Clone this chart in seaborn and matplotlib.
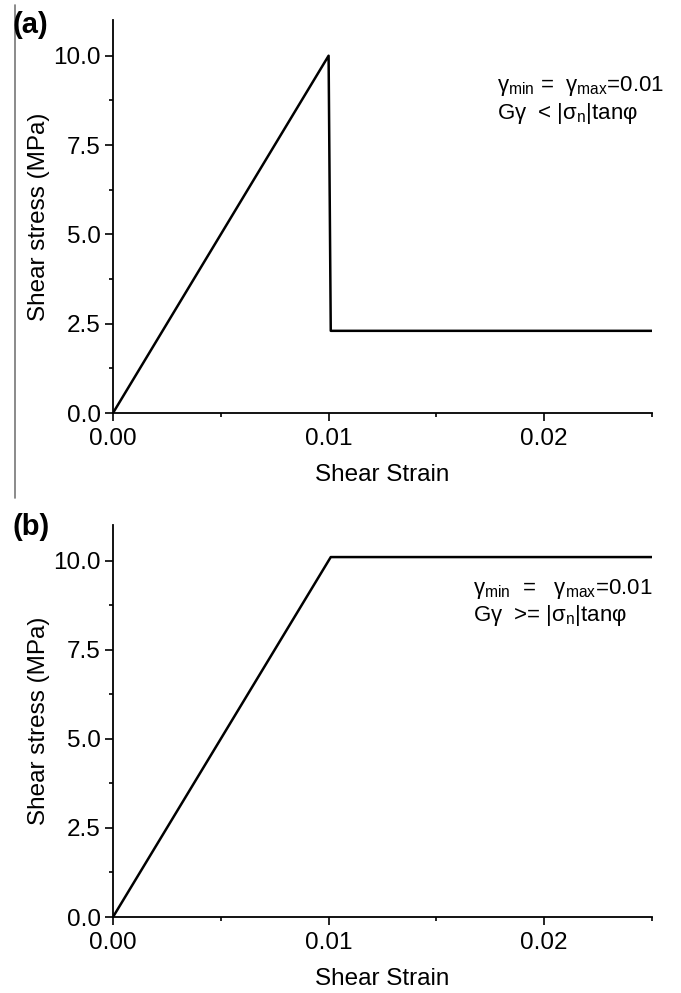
import matplotlib
matplotlib.use("Agg")
import matplotlib.pyplot as plt
import seaborn as sns
import pandas as pd
from matplotlib.lines import Line2D
from matplotlib.ticker import MultipleLocator, FormatStrFormatter

# Data
strain_a = [0.0, 0.0100, 0.0101, 0.025]
stress_a = [0.0, 10.0, 2.3, 2.3]
strain_b = [0.0, 0.0101, 0.025]
stress_b = [0.0, 10.1, 10.1]
panel_labels = ["(a)", "(b)"]
notes_line1 = ["γ$_{\\rm min}$ =  γ$_{\\rm max}$=0.01", "γ$_{\\rm min}$  =   γ$_{\\rm max}$=0.01"]
notes_line2 = ["Gγ  < |σ$_{\\rm n}$|tanφ", "Gγ  >= |σ$_{\\rm n}$|tanφ"]
x_ticks = [0.0, 0.01, 0.02]
y_ticks = [0.0, 2.5, 5.0, 7.5, 10.0]

sns.set_style("ticks")
plt.rcParams['font.family'] = ['Liberation Sans', 'DejaVu Sans']
plt.rcParams['mathtext.fontset'] = 'custom'
plt.rcParams['mathtext.rm'] = 'Liberation Sans'
plt.rcParams['mathtext.it'] = 'Liberation Sans:italic'
plt.rcParams['mathtext.bf'] = 'Liberation Sans:bold'
plt.rcParams['text.color'] = 'black'
plt.rcParams['axes.labelcolor'] = 'black'
plt.rcParams['xtick.color'] = 'black'
plt.rcParams['ytick.color'] = 'black'

W, H = 681, 993
fig = plt.figure(figsize=(W / 100, H / 100), dpi=100)

def frac_axes(left, top, right, bottom):
    return fig.add_axes([left / W, 1 - bottom / H, (right - left) / W, (bottom - top) / H])

ax_a = frac_axes(113, 20, 652, 413)
ax_b = frac_axes(113, 525, 652, 917)

df_a = pd.DataFrame({"strain": strain_a, "stress": stress_a})
df_b = pd.DataFrame({"strain": strain_b, "stress": stress_b})

sns.lineplot(data=df_a, x="strain", y="stress", ax=ax_a, color="black", linewidth=1.8, sort=False, estimator=None)
sns.lineplot(data=df_b, x="strain", y="stress", ax=ax_b, color="black", linewidth=1.8, sort=False, estimator=None)

note_pos = [((497, 86), (497, 114)), ((473, 589), (473, 616))]

for i, ax in enumerate([ax_a, ax_b]):
    ax.set_xlim(0, 0.025)
    ax.set_ylim(0, 11)
    ax.set_xticks(x_ticks)
    ax.set_yticks(y_ticks)
    ax.xaxis.set_minor_locator(MultipleLocator(0.005))
    ax.yaxis.set_minor_locator(MultipleLocator(1.25))
    ax.xaxis.set_major_formatter(FormatStrFormatter('%.2f'))
    ax.yaxis.set_major_formatter(FormatStrFormatter('%.1f'))
    ax.tick_params(which='major', length=6, width=1.2, labelsize=17.5, pad=3, color='black', labelcolor='black')
    ax.tick_params(axis='x', which='major', pad=5)
    ax.tick_params(which='minor', length=3, width=1.2, color='black')
    for s in ['left', 'bottom']:
        ax.spines[s].set_linewidth(1.3)
        ax.spines[s].set_color('black')
    sns.despine(ax=ax)
    ax.set_xlabel("Shear Strain", fontsize=17.5, labelpad=10, color='black')
    ax.set_ylabel("Shear stress (MPa)", fontsize=17.5, labelpad=2, color='black')
    (x1, y1), (x2, y2) = note_pos[i]
    fig.text(x1 / W, 1 - y1 / H, notes_line1[i], fontsize=16, va='center', ha='left', color='black')
    fig.text(x2 / W, 1 - y2 / H, notes_line2[i], fontsize=16, va='center', ha='left', color='black')

fig.text(12 / W, 1 - 25 / H, panel_labels[0], fontsize=21, fontweight='bold', va='center', ha='left', color='black')
fig.text(12 / W, 1 - 527 / H, panel_labels[1], fontsize=21, fontweight='bold', va='center', ha='left', color='black')

fig.add_artist(Line2D([15 / W, 15 / W], [1 - 5 / H, 1 - 498 / H], color='#777777', linewidth=1.2, transform=fig.transFigure))

fig.savefig("out.png", dpi=100)
